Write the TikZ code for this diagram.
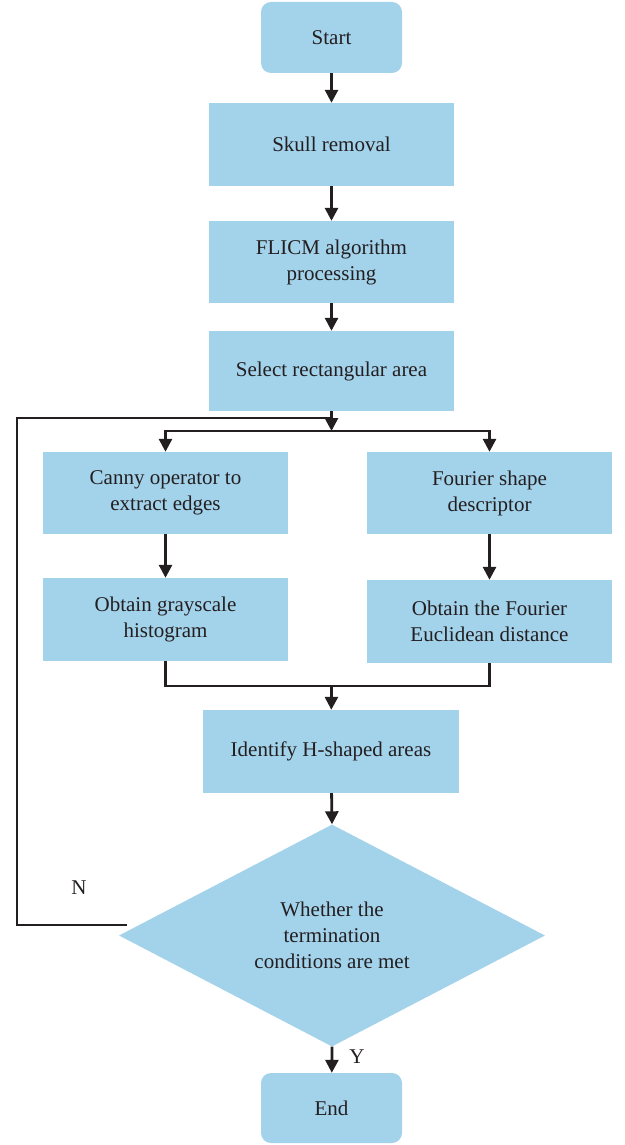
\documentclass[tikz,border=0pt]{standalone}
\usepackage{fontspec}
\setmainfont{Liberation Serif}
\usetikzlibrary{shapes.geometric,arrows.meta}
\definecolor{boxblue}{HTML}{A3D2EB}
\definecolor{ink}{HTML}{231F20}
\begin{document}
\begin{tikzpicture}[x=1pt,y=-1pt,
  box/.style={fill=boxblue,draw=none,minimum width=245pt,minimum height=83pt,align=center,
    inner sep=0pt,text=ink,font=\fontsize{21}{26}\selectfont},
  term/.style={box,rounded corners=10pt,minimum width=141pt,minimum height=71pt},
  conn/.style={draw=ink,line width=2.8pt},
  arr/.style={conn,-{Triangle[length=13pt,width=13pt]}},
  lbl/.style={text=ink,font=\fontsize{21}{26}\selectfont,inner sep=0pt}]
\useasboundingbox (0,0) rectangle (624,1145);
\node[term] (start) at (331.5,37.5) {Start};
\node[box] (skull) at (331.5,144.5) {Skull removal};
\node[box,minimum height=82pt] (flicm) at (331.5,262) {FLICM algorithm\\processing};
\node[box,minimum height=80pt] (sel) at (331.5,371) {Select rectangular area};
\node[box,minimum height=82pt] (canny) at (165.5,493) {Canny operator to\\extract edges};
\node[box,minimum height=82pt] (four) at (489.5,493) {Fourier shape\\descriptor};
\node[box] (gray) at (165.5,619.5) {Obtain grayscale\\histogram};
\node[box] (eucl) at (489.5,621.5) {Obtain the Fourier\\Euclidean distance};
\node[box,minimum width=256pt] (ident) at (331,751.5) {Identify H-shaped areas};
\node[diamond,fill=boxblue,minimum width=426pt,minimum height=222pt,inner sep=0pt] (dia) at (332,935.5) {};
\node[lbl,align=center] (diatext) at (dia.center) {Whether the\\termination\\conditions are met};
\node[term,minimum height=70pt] (end) at (331.5,1108) {End};
\node[lbl] (nlab) at (79,888) {N};
\node[lbl] (ylab) at (357,1057) {Y};
\coordinate (split) at (331.5,431);
\coordinate (merge) at (331.5,686);
\coordinate (nstart) at (127,925);
\coordinate (lc1) at (17,925);
\coordinate (lc2) at (17,418);
\draw[arr] (start) -- (skull);
\draw[arr] (skull) -- (flicm);
\draw[arr] (flicm) -- (sel);
\draw[arr] (sel) -- (split);
\draw[arr] (split) -| (canny.north);
\draw[arr] (split) -| (four.north);
\draw[arr] (canny) -- (gray);
\draw[arr] (four) -- (eucl);
\draw[conn] (gray.south) |- (merge);
\draw[conn] (eucl.south) |- (merge);
\draw[arr] (merge) -- (ident);
\draw[arr] (ident) -- (dia.north);
\draw[arr] (dia.south) -- (end);
\draw[conn,line join=miter] (nstart) -- (lc1) -- (lc2) -- (sel.south |- lc2);
\end{tikzpicture}
\end{document}
